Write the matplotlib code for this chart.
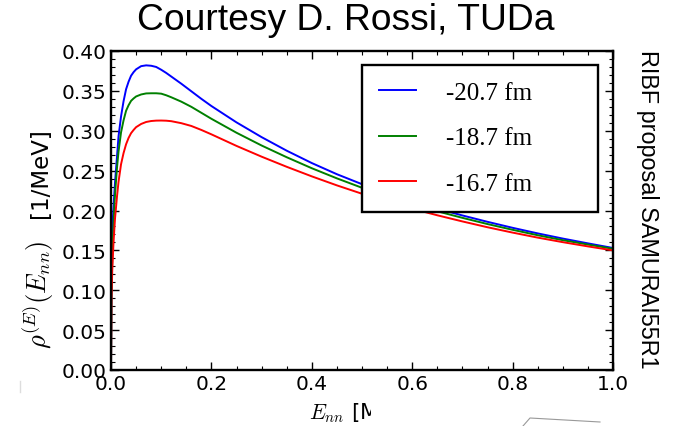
import matplotlib
matplotlib.use("Agg")
import matplotlib.pyplot as plt
from matplotlib.patches import Rectangle
from matplotlib.lines import Line2D
from matplotlib.ticker import MultipleLocator

# ---------------- data ----------------
x_blue = [0.0, 0.001, 0.0025, 0.005, 0.008, 0.012, 0.015, 0.02, 0.025, 0.03, 0.035, 0.04,
          0.045, 0.05, 0.06, 0.07, 0.08, 0.09, 0.10, 0.11, 0.12, 0.14, 0.16, 0.18, 0.20,
          0.25, 0.30, 0.35, 0.40, 0.45, 0.50, 0.55, 0.60, 0.65, 0.70, 0.75, 0.80, 0.85,
          0.90, 0.95, 1.00]
y_blue = [0.0, 0.12, 0.175, 0.205, 0.235, 0.268, 0.293, 0.318, 0.337, 0.352, 0.3615, 0.369,
          0.3735, 0.377, 0.381, 0.382, 0.3815, 0.380, 0.3765, 0.3725, 0.368, 0.359, 0.3495,
          0.340, 0.331, 0.3105, 0.292, 0.275, 0.2595, 0.2455, 0.233, 0.2218, 0.2115,
          0.2023, 0.1938, 0.1858, 0.1783, 0.1713, 0.1648, 0.1588, 0.153]

x_green = [0.0, 0.001, 0.0025, 0.005, 0.008, 0.012, 0.015, 0.02, 0.025, 0.03, 0.035, 0.04,
           0.045, 0.05, 0.06, 0.07, 0.08, 0.09, 0.10, 0.11, 0.12, 0.14, 0.16, 0.18, 0.20,
           0.25, 0.30, 0.35, 0.40, 0.45, 0.50, 0.55, 0.60, 0.65, 0.70, 0.75, 0.80, 0.85,
           0.90, 0.95, 1.00]
y_green = [0.0, 0.095, 0.14, 0.185, 0.22, 0.254, 0.274, 0.298, 0.313, 0.325, 0.332, 0.3375,
           0.3405, 0.343, 0.3455, 0.3468, 0.347, 0.347, 0.3465, 0.3445, 0.342, 0.3365, 0.330,
           0.3225, 0.315, 0.2975, 0.2815, 0.2668, 0.253, 0.2403, 0.2285, 0.2178, 0.208,
           0.199, 0.1908, 0.183, 0.1758, 0.169, 0.1628, 0.1573, 0.152]

x_red = [0.0, 0.001, 0.0025, 0.005, 0.008, 0.012, 0.015, 0.02, 0.025, 0.03, 0.035, 0.04,
         0.045, 0.05, 0.06, 0.07, 0.08, 0.09, 0.10, 0.11, 0.12, 0.14, 0.16, 0.18, 0.20,
         0.25, 0.30, 0.35, 0.40, 0.45, 0.50, 0.55, 0.60, 0.65, 0.70, 0.75, 0.80, 0.85,
         0.90, 0.95, 1.00]
y_red = [0.0, 0.09, 0.125, 0.16, 0.19, 0.218, 0.236, 0.258, 0.272, 0.283, 0.291, 0.297,
         0.301, 0.3045, 0.3085, 0.311, 0.3122, 0.3127, 0.3128, 0.3126, 0.312, 0.3095, 0.306,
         0.301, 0.2955, 0.281, 0.2675, 0.2548, 0.2428, 0.2315, 0.221, 0.2113, 0.2023,
         0.194, 0.1863, 0.179, 0.1723, 0.166, 0.1603, 0.155, 0.150]

labels = ["-20.7 fm", "-18.7 fm", "-16.7 fm"]
colors = ["#0000ff", "#008000", "#ff0000"]

xticks = [0.0, 0.2, 0.4, 0.6, 0.8, 1.0]
yticks = [0.00, 0.05, 0.10, 0.15, 0.20, 0.25, 0.30, 0.35, 0.40]

# ---------------- figure ----------------
plt.rcParams["mathtext.fontset"] = "cm"
plt.rcParams["font.family"] = ["DejaVu Sans"]

W, H = 693, 427
fig = plt.figure(figsize=(W / 100, H / 100), dpi=100)
ax = fig.add_axes([111 / W, 1 - 371 / H, (613 - 111) / W, (371 - 52) / H])

for xs, ys, lab, c in zip([x_blue, x_green, x_red], [y_blue, y_green, y_red], labels, colors):
    ax.plot(xs, ys, color=c, lw=1.4, label=lab)

ax.set_xlim(0, 1.0)
ax.set_ylim(0, 0.40)
ax.set_xticks(xticks)
ax.set_xticklabels([f"{v:.1f}" for v in xticks])
ax.set_yticks(yticks)
ax.set_yticklabels([f"{v:.2f}" for v in yticks])
ax.xaxis.set_minor_locator(MultipleLocator(0.05))
ax.yaxis.set_minor_locator(MultipleLocator(0.01))
ax.tick_params(which="both", direction="in", top=True, right=True, labelsize=14.5)
ax.tick_params(which="major", length=6, width=1.0, pad=3)
ax.tick_params(which="minor", length=3, width=0.8)
for s in ax.spines.values():
    s.set_linewidth(1.7)

ax.set_xlabel(r"$E_{nn}$ [MeV]", fontsize=15.5, labelpad=5)

# y label: math part followed by the unit
fig.text(47 / W, 1 - 349 / H, r"$\rho^{(E)}(E_{nn})$", rotation=90, rotation_mode="anchor",
         ha="left", va="baseline", fontsize=19)
fig.text(47 / W, 1 - 128 / H, "[1/MeV]", rotation=90, rotation_mode="anchor",
         ha="right", va="baseline", fontsize=16.5)

top = (371 - 66) / 319
leg = ax.legend(loc="upper left", bbox_to_anchor=((362 - 111) / 502, top - 0.01,
                                                   (598 - 362) / 502, 0.01),
                mode="expand", borderaxespad=0, fancybox=False, framealpha=1,
                edgecolor="black", prop={"family": "Liberation Serif", "size": 18},
                handlelength=1.5, handletextpad=1.2, labelspacing=0.92, borderpad=0.66)
leg.get_frame().set_linewidth(1.7)

fig.text(346 / W, 1 - 21 / H, "Courtesy D. Rossi, TUDa", ha="center", va="center",
         fontsize=26.8, family="Liberation Sans")
fig.text(648 / W, 1 - 209 / H, "RIBF proposal SAMURAI55R1", ha="center", va="center",
         rotation=-90, fontsize=16.8, family="Liberation Sans")

# white overlay that hides part of the x label, with faint slide decorations
fig.patches.append(Rectangle((371 / W, 0), 1 - 371 / W, (427 - 398) / H,
                             transform=fig.transFigure, facecolor="white",
                             edgecolor="none", zorder=10))
fig.lines.append(Line2D([523 / W, 530 / W, 600 / W], [0, 8 / H, 4 / H],
                        transform=fig.transFigure, color="#999999", lw=0.8, zorder=11))
fig.lines.append(Line2D([20 / W, 20 / W], [1 - 382 / H, 1 - 393 / H],
                        transform=fig.transFigure, color="#dddddd", lw=1.0, zorder=11))

fig.savefig("out.png", dpi=100)
